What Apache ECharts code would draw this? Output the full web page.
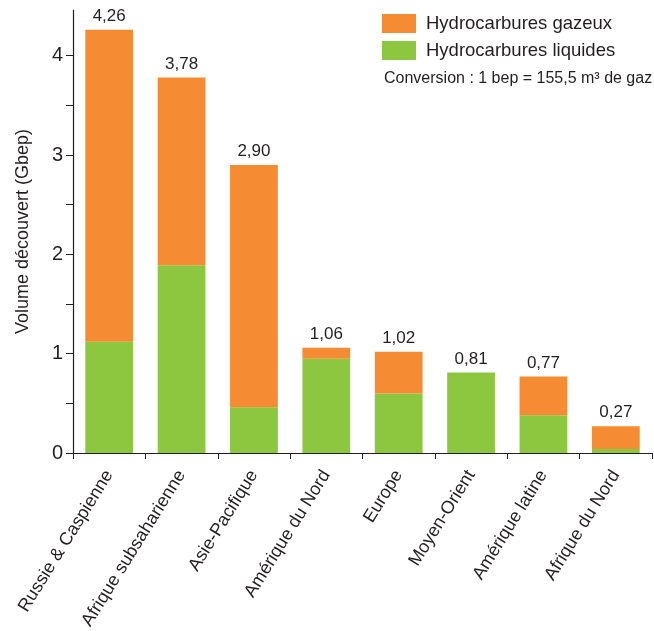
<!DOCTYPE html>
<html>
<head>
<meta charset="utf-8">
<script src="https://cdn.jsdelivr.net/npm/echarts@6/dist/echarts.min.js"></script>
<style>
  html, body { margin: 0; padding: 0; background: #fff; }
  #chart { width: 654px; height: 631px; }
</style>
</head>
<body>
<div id="chart"></div>
<script>
// Regions, in display order
const regions = [
  'Russie & Caspienne', 'Afrique subsaharienne', 'Asie-Pacifique', 'Amérique du Nord',
  'Europe', 'Moyen-Orient', 'Amérique latine', 'Afrique du Nord'
];
// Discovered volumes, Gbep
const liquides = [1.12, 1.89, 0.46, 0.95, 0.60, 0.81, 0.38, 0.04];
const gazeux   = [3.14, 1.89, 2.44, 0.11, 0.42, 0.00, 0.39, 0.23];
// Y axis labelled values and tick positions
const yLabels = [0, 1, 2, 3, 4];
const yTicks = [0, 0.5, 1, 1.5, 2, 2.5, 3, 3.5, 4];

const FONT = '"Liberation Sans", Arial, Helvetica, sans-serif';
const INK = '#231f20';

const totals = liquides.map((v, i) => Math.round((v + gazeux[i]) * 100) / 100);
const fmt = v => v.toFixed(2).replace('.', ',');

const chart = echarts.init(document.getElementById('chart'));
chart.setOption({
  animation: false,
  textStyle: { fontFamily: FONT, color: INK },
  grid: { left: 73, right: 2, top: 10, bottom: 178, outerBoundsMode: 'none', containLabel: false },
  legend: {
    orient: 'vertical',
    left: 377, top: 9,
    itemWidth: 34, itemHeight: 19, itemGap: 8,
    icon: 'rect',
    textStyle: { fontFamily: FONT, fontSize: 18.5, color: INK, padding: [0, 0, 0, 5] },
    data: ['Hydrocarbures gazeux', 'Hydrocarbures liquides']
  },
  graphic: [{
    type: 'text', left: 384, top: 71,
    style: { text: 'Conversion : 1 bep = 155,5 m³ de gaz', font: '16px ' + FONT, fill: INK }
  }],
  xAxis: {
    type: 'category',
    data: regions,
    axisLine: { lineStyle: { color: INK, width: 1.2 } },
    axisTick: { show: true, length: 6, alignWithLabel: false, lineStyle: { color: INK } },
    axisLabel: { rotate: 58, fontSize: 18, color: INK, fontFamily: FONT, margin: 19, interval: 0 }
  },
  yAxis: {
    type: 'value',
    min: 0, max: 4.46, interval: 0.5,
    name: 'Volume découvert (Gbep)',
    nameLocation: 'middle', nameGap: 41,
    nameTextStyle: { fontSize: 18, color: INK, fontFamily: FONT },
    splitLine: { show: false },
    axisLine: { show: true, lineStyle: { color: INK, width: 1.2 } },
    axisTick: { show: true, length: 7, customValues: yTicks, lineStyle: { color: INK } },
    axisLabel: { customValues: yLabels, fontSize: 20, color: INK, fontFamily: FONT, margin: 10 }
  },
  series: [
    {
      name: 'Hydrocarbures liquides', type: 'bar', stack: 'vol',
      data: liquides, barCategoryGap: '34%',
      itemStyle: { color: '#8dc63f' }
    },
    {
      name: 'Hydrocarbures gazeux', type: 'bar', stack: 'vol',
      data: gazeux, barCategoryGap: '34%',
      itemStyle: { color: '#f58c33' },
      label: {
        show: true, position: 'top', distance: 5,
        fontSize: 17, color: INK, fontFamily: FONT,
        formatter: p => fmt(totals[p.dataIndex])
      }
    }
  ]
});
</script>
</body>
</html>
